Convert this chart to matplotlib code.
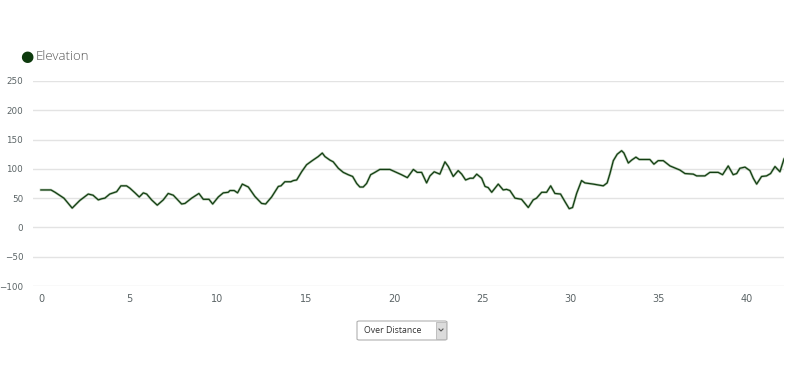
import matplotlib
matplotlib.use("Agg")
import matplotlib.pyplot as plt
from matplotlib.patches import FancyBboxPatch, Rectangle
from matplotlib.lines import Line2D

km = [0, 0.57, 0.8, 1.3, 1.77, 2.2, 2.68, 2.95, 3.25, 3.45, 3.62, 3.9, 4.29, 4.53, 4.85,
      5.04, 5.33, 5.57, 5.8, 5.99, 6.27, 6.59, 6.93, 7.21, 7.5, 7.97, 8.16, 8.54, 8.95,
      9.2, 9.52, 9.73, 10.05, 10.33, 10.61, 10.71, 10.95, 11.14, 11.41, 11.75, 12.12,
      12.5, 12.73, 13.07, 13.45, 13.6, 13.82, 14.16, 14.3, 14.49, 14.77, 15.05, 15.37,
      15.71, 15.94, 16.09, 16.37, 16.56, 16.85, 17.13, 17.41, 17.66, 17.89, 18.07, 18.26,
      18.45, 18.68, 18.92, 19.2, 19.77, 20.06, 20.43, 20.76, 21.1, 21.32, 21.57, 21.85,
      22.04, 22.28, 22.6, 22.89, 23.08, 23.36, 23.64, 23.84, 24.06, 24.31, 24.49, 24.69,
      24.97, 25.16, 25.34, 25.54, 25.91, 26.19, 26.38, 26.57, 26.86, 27.23, 27.61, 27.89,
      28.08, 28.37, 28.65, 28.88, 29.12, 29.44, 29.69, 29.93, 30.12, 30.35, 30.63, 30.82,
      31.29, 31.86, 32.08, 32.24, 32.43, 32.65, 32.9, 33.03, 33.28, 33.47, 33.71, 33.9,
      34.5, 34.73, 34.97, 35.26, 35.64, 36.2, 36.49, 36.96, 37.15, 37.62, 37.9, 38.37,
      38.62, 38.94, 39.22, 39.42, 39.6, 39.89, 40.17, 40.36, 40.55, 40.83, 41.11, 41.34,
      41.59, 41.87, 42.1]
elevation = [64, 64, 60, 50, 33, 46, 57, 55, 47, 49, 50, 57, 61, 71, 71,
             67, 59, 52, 59, 57, 47, 38, 47, 58, 55, 40, 41, 50, 58,
             48, 48, 40, 52, 59, 60, 63, 63, 59, 74, 69, 53,
             41, 40, 52, 70, 71, 78, 78, 80, 81, 95, 107, 114,
             121, 127, 121, 115, 112, 101, 94, 90, 87, 75, 69, 69,
             75, 90, 94, 99, 99, 95, 90, 85, 99, 94, 94, 76,
             88, 95, 91, 112, 104, 87, 97, 91, 81, 84, 84, 91,
             84, 70, 68, 60, 74, 64, 65, 63, 50, 48, 34, 47,
             50, 60, 60, 71, 58, 57, 44, 32, 34, 58, 80, 76,
             74, 71, 76, 92, 114, 125, 131, 127, 110, 115, 120, 116,
             116, 108, 114, 114, 105, 98, 92, 91, 88, 88, 94, 94,
             90, 105, 90, 92, 101, 103, 97, 84, 74, 87, 88, 92,
             104, 95, 117]

yticks = [-100, -50, 0, 50, 100, 150, 200, 250]
xticks = [0, 5, 10, 15, 20, 25, 30, 35, 40]
series_name = "Elevation"
dropdown_label = "Over Distance"

W, H = 800, 384
fig = plt.figure(figsize=(8, 3.84), dpi=100)
ax = fig.add_axes([33 / W, 1 - 286 / H, 751 / W, 205 / H])

ax.plot(km, elevation, color="#5f8a55", lw=1.8, alpha=0.45, solid_joinstyle="round")
ax.plot(km, elevation, color="#123d12", lw=0.9, solid_joinstyle="round")

ax.set_xlim(-0.45, 42.1)
ax.set_ylim(-100, 250)
ax.set_yticks(yticks)
ax.set_xticks(xticks)
ax.grid(axis="y", color="#e3e3e3", lw=1)
ax.grid(axis="x", visible=False)
for s in ax.spines.values():
    s.set_visible(False)
ax.tick_params(axis="y", length=0, pad=7, labelsize=6.3, labelcolor="#5b6466")
ax.tick_params(axis="x", length=0, pad=6, labelsize=7, labelcolor="#5b6466")
ax.set_yticklabels([("\u2212" + str(-t)) if t < 0 else str(t) for t in yticks])
for lbl in ax.get_xticklabels():
    lbl.set_fontfamily("Liberation Sans Narrow")

# legend
fig.text(27 / W, 1 - 56.5 / H, "\u25cf", color="#0d3a0d", fontsize=11,
         ha="center", va="center")
fig.text(35.5 / W, 1 - 56 / H, series_name, color="#555555", fontsize=9.5,
         ha="left", va="center", family="Open Sans", fontweight="light")

# dropdown
x0, y0, x1, y1 = 357, 321, 447, 340
box = FancyBboxPatch((x0 / W, 1 - y1 / H), (x1 - x0) / W, (y1 - y0) / H,
                     boxstyle="round,pad=0,rounding_size=0.003",
                     transform=fig.transFigure, facecolor="white",
                     edgecolor="#b0b0b0", lw=0.8)
fig.patches.append(box)
btn = Rectangle((436 / W, 1 - (y1 - 1) / H), 10 / W, (y1 - y0 - 2) / H,
                transform=fig.transFigure, facecolor="#dcdcdc",
                edgecolor="#b8b8b8", lw=0.6)
fig.patches.append(btn)
fig.lines.append(Line2D([439 / W, 441 / W, 443 / W],
                        [1 - 329 / H, 1 - 331 / H, 1 - 329 / H],
                        transform=fig.transFigure, color="#555555", lw=0.8))
fig.text(364 / W, 1 - 330.5 / H, dropdown_label, color="#333333", fontsize=6.3,
         ha="left", va="center", family="Open Sans")

fig.savefig("out.png", dpi=100)
